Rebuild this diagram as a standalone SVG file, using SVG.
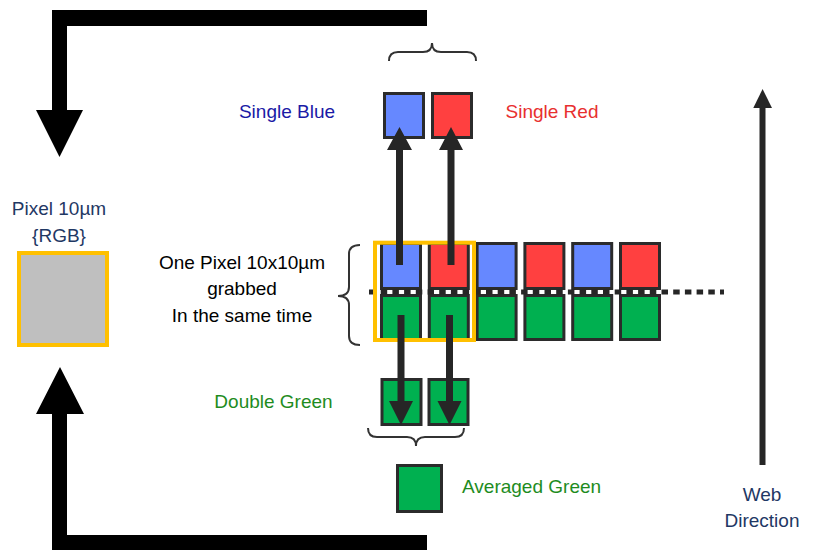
<svg xmlns="http://www.w3.org/2000/svg" width="814" height="550" viewBox="0 0 814 550">
<defs>
<style>
.t{font-family:"Liberation Sans",Arial,sans-serif;font-size:19px}
.navy{fill:#1F3864}
.cell{stroke:#2b2b2b;stroke-width:3}
.b{fill:#6688FF}
.r{fill:#FF4040}
.g{fill:#00B050}
.brace{fill:none;stroke:#333;stroke-width:2}
.arr{fill:#262626}
</style>
</defs>
<rect width="814" height="550" fill="#fff"/>

<g id="loop-top">
<path d="M52,10 H427 V26 H67 V110 H83 L59.5,157 L36,110 H52 Z" fill="#000"/>
</g>
<g id="loop-bottom">
<path d="M52,551 H427 V535 H67 V414 H84 L60,367 L36,414 H52 Z" fill="#000"/>
</g>

<g id="pixel-rgb">
<text class="t navy" x="59" y="215" text-anchor="middle">Pixel 10µm</text>
<text class="t navy" x="59" y="242" text-anchor="middle">{RGB}</text>
<rect x="19" y="253" width="88" height="92" fill="#BFBFBF" stroke="#FFC000" stroke-width="4"/>
</g>

<g id="one-pixel-label">
<text class="t" x="242" y="269" text-anchor="middle" fill="#000">One Pixel 10x10µm</text>
<text class="t" x="242" y="295" text-anchor="middle" fill="#000">grabbed</text>
<text class="t" x="242" y="322" text-anchor="middle" fill="#000">In the same time</text>
<path class="brace" d="M360,245 Q349,245 349,254 L349,287 Q349,296 338,296 Q349,296 349,305 L349,336 Q349,345 360,345"/>
</g>

<g id="single-blue">
<text class="t" x="287" y="118" text-anchor="middle" fill="#1A1AA6">Single Blue</text>
<rect class="cell b" x="384.5" y="93.5" width="39" height="44"/>
</g>
<g id="single-red">
<rect class="cell r" x="432.5" y="93.5" width="39" height="44"/>
<text class="t" x="552" y="118" text-anchor="middle" fill="#E8302F">Single Red</text>
</g>
<g id="top-brace">
<path class="brace" d="M389,61 Q389,52 398,52 L423,52 Q432,52 432,43 Q432,52 441,52 L467,52 Q476,52 476,61"/>
</g>

<g id="sensor-row">
<rect class="cell b" x="381.5" y="243.5" width="39" height="45"/>
<rect class="cell g" x="381.5" y="295.5" width="39" height="44"/>
<rect class="cell r" x="429.3" y="243.5" width="39" height="45"/>
<rect class="cell g" x="429.3" y="295.5" width="39" height="44"/>
<rect class="cell b" x="477.1" y="243.5" width="39" height="45"/>
<rect class="cell g" x="477.1" y="295.5" width="39" height="44"/>
<rect class="cell r" x="524.9" y="243.5" width="39" height="45"/>
<rect class="cell g" x="524.9" y="295.5" width="39" height="44"/>
<rect class="cell b" x="572.7" y="243.5" width="39" height="45"/>
<rect class="cell g" x="572.7" y="295.5" width="39" height="44"/>
<rect class="cell r" x="620.5" y="243.5" width="39" height="45"/>
<rect class="cell g" x="620.5" y="295.5" width="39" height="44"/>
<line x1="369" y1="292" x2="724" y2="292" stroke="#262626" stroke-width="5" stroke-dasharray="6.5 5.2"/>
<rect x="375" y="242.7" width="99" height="97.3" fill="none" stroke="#FFC000" stroke-width="4"/>
</g>

<g id="double-green">
<text class="t" x="273.5" y="408" text-anchor="middle" fill="#1E8C1E">Double Green</text>
<rect class="cell g" x="382" y="379.5" width="39" height="45"/>
<rect class="cell g" x="429" y="379.5" width="39" height="45"/>
<path class="brace" d="M368,428 Q368,437 377,437 L407,437 Q416,437 416,446 Q416,437 425,437 L455,437 Q464,437 464,428"/>
</g>

<g id="averaged-green">
<rect class="cell g" x="397.5" y="465.5" width="44" height="46"/>
<text class="t" x="462" y="493" fill="#1E8C1E">Averaged Green</text>
</g>

<g id="web-direction">
<line x1="762.5" y1="465" x2="762.5" y2="105" stroke="#262626" stroke-width="6"/>
<path class="arr" d="M753.3,108 L772,108 L762.6,89 Z"/>
<text class="t navy" x="762" y="501" text-anchor="middle">Web</text>
<text class="t navy" x="762" y="527" text-anchor="middle">Direction</text>
</g>

<g id="connectors">
<path class="arr" d="M396,265 V150 H387 L399.5,127 L412,150 H403 V265 Z"/>
<path class="arr" d="M447.5,265 V150 H439 L451,127 L463,150 H454.5 V265 Z"/>
<path class="arr" d="M397.5,315 V401 H389 L401,425 L413,401 H404.5 V315 Z"/>
<path class="arr" d="M446,315 V401 H437.5 L449.5,425 L461.5,401 H453 V315 Z"/>
</g>
</svg>
